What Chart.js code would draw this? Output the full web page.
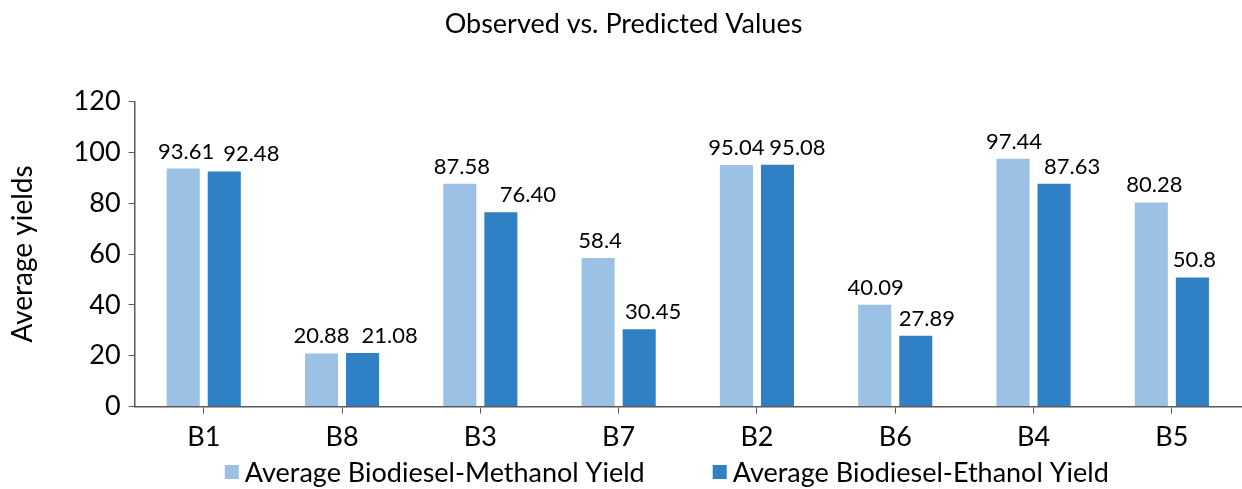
<!DOCTYPE html>
<html>
<head>
<meta charset="utf-8">
<script src="https://cdn.jsdelivr.net/npm/chart.js@4/dist/chart.umd.min.js"></script>
<style>
  html, body { margin: 0; padding: 0; background: #ffffff; }
  #wrap { width: 1242px; height: 489px; }
</style>
</head>
<body>
<div id="wrap"><canvas id="chart" width="1242" height="489"></canvas></div>
<script>
// Sample batches in the order they are plotted
const categories = ['B1', 'B8', 'B3', 'B7', 'B2', 'B6', 'B4', 'B5'];

// Average yields for each alcohol
const methanolYield = [93.61, 20.88, 87.58, 58.4, 95.04, 40.09, 97.44, 80.28];
const ethanolYield  = [92.48, 21.08, 76.40, 30.45, 95.08, 27.89, 87.63, 50.8];

// Value labels as printed above the bars
const methanolLabels = ['93.61', '20.88', '87.58', '58.4', '95.04', '40.09', '97.44', '80.28'];
const ethanolLabels  = ['92.48', '21.08', '76.40', '30.45', '95.08', '27.89', '87.63', '50.8'];

const yTicks = [0, 20, 40, 60, 80, 100, 120];

const FONT = "Lato, 'Open Sans', sans-serif";
const AXIS_COLOR = '#595959';
const METHANOL_COLOR = '#9BC2E5';
const ETHANOL_COLOR = '#2F80C4';

// Horizontal nudges (px) so neighbouring value labels do not collide
const labelNudge = [
  [3, 0, 2, 2, 0, 1, 1, 3],
  [27, 27, 27, 14, 20, 11, 18, 2]
];

// Writes the value label above each bar
const barValueLabels = {
  id: 'barValueLabels',
  afterDatasetsDraw(chart) {
    const ctx = chart.ctx;
    ctx.save();
    ctx.font = '22px ' + FONT;
    ctx.fillStyle = '#000000';
    ctx.textAlign = 'center';
    ctx.textBaseline = 'alphabetic';
    chart.data.datasets.forEach((ds, di) => {
      const meta = chart.getDatasetMeta(di);
      meta.data.forEach((bar, i) => {
        ctx.fillText(ds.valueLabels[i], bar.x + labelNudge[di][i], bar.y - 10);
      });
    });
    ctx.restore();
  }
};

// Legend row under the category axis: square swatch, then series name
const bottomLegend = {
  id: 'bottomLegend',
  afterDraw(chart) {
    const ctx = chart.ctx;
    const box = 14, gap = 6, itemGap = 68;
    ctx.save();
    ctx.font = '27px ' + FONT;
    ctx.textBaseline = 'middle';
    ctx.textAlign = 'left';
    const items = chart.data.datasets.map(ds => ({
      text: ds.label,
      color: ds.backgroundColor,
      w: ctx.measureText(ds.label).width
    }));
    const total = items.reduce((s, it) => s + box + gap + it.w, 0) + itemGap * (items.length - 1);
    const mid = (chart.chartArea.left + chart.chartArea.right) / 2 - 21;
    let x = mid - total / 2;
    const y = chart.height - 17;
    items.forEach(it => {
      ctx.fillStyle = it.color;
      ctx.fillRect(x, y - box / 2, box, box);
      ctx.fillStyle = '#000000';
      ctx.fillText(it.text, x + box + gap, y + 1);
      x += box + gap + it.w + itemGap;
    });
    ctx.restore();
  }
};

new Chart(document.getElementById('chart'), {
  type: 'bar',
  data: {
    labels: categories,
    datasets: [
      {
        label: 'Average Biodiesel-Methanol Yield',
        data: methanolYield,
        valueLabels: methanolLabels,
        backgroundColor: METHANOL_COLOR,
        barPercentage: 0.805,
        categoryPercentage: 0.594
      },
      {
        label: 'Average Biodiesel-Ethanol Yield',
        data: ethanolYield,
        valueLabels: ethanolLabels,
        backgroundColor: ETHANOL_COLOR,
        barPercentage: 0.805,
        categoryPercentage: 0.594
      }
    ]
  },
  options: {
    responsive: false,
    animation: false,
    layout: { padding: { left: 6, right: 1, top: 0, bottom: 29 } },
    plugins: {
      title: {
        display: true,
        text: 'Observed vs. Predicted Values',
        color: '#000000',
        font: { family: FONT, size: 27, weight: 'normal' },
        padding: { top: 8, bottom: 61 }
      },
      legend: { display: false },
      tooltip: { enabled: false }
    },
    scales: {
      x: {
        grid: {
          display: true,
          drawOnChartArea: false,
          offset: false,
          color: AXIS_COLOR,
          tickLength: 7
        },
        border: { display: true, color: AXIS_COLOR, width: 1.5 },
        ticks: {
          color: '#000000',
          font: { family: FONT, size: 27 },
          padding: 7
        }
      },
      y: {
        min: 0,
        max: 120,
        afterBuildTicks(axis) { axis.ticks = yTicks.map(v => ({ value: v })); },
        grid: {
          display: true,
          drawOnChartArea: false,
          color: AXIS_COLOR,
          tickLength: 6
        },
        border: { display: true, color: AXIS_COLOR, width: 1.5 },
        ticks: {
          color: '#000000',
          font: { family: FONT, size: 27 },
          padding: 8
        },
        title: {
          display: true,
          text: 'Average yields',
          color: '#000000',
          font: { family: FONT, size: 28 },
          padding: { top: 0, bottom: 26 }
        }
      }
    }
  },
  plugins: [barValueLabels, bottomLegend]
});
</script>
</body>
</html>
